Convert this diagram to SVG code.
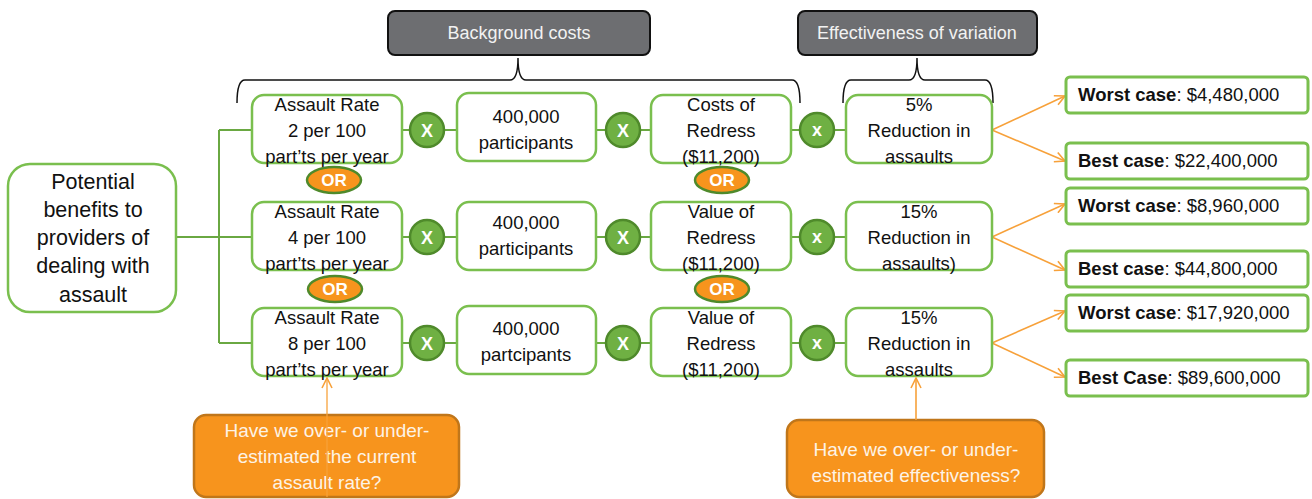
<svg xmlns="http://www.w3.org/2000/svg" width="1312" height="499" viewBox="0 0 1312 499">
<defs>
<style>
text{font-family:"Liberation Sans",Arial,sans-serif;}
.box{fill:#fff;stroke:#7abf4e;stroke-width:2.5;}
.res{fill:#fff;stroke:#7abf4e;stroke-width:3;}
.hdr{fill:#6d6e71;stroke:#111;stroke-width:2;}
.ht{fill:#f2f2f2;font-size:18px;text-anchor:middle;}
.t{fill:#111;font-size:18.5px;text-anchor:middle;}
.rt{fill:#111;font-size:18.5px;}
.b{font-weight:bold;}
.xc{fill:#6fb043;stroke:#4f8a2b;stroke-width:2.5;}
.xt{fill:#fff;font-size:18px;font-weight:bold;text-anchor:middle;}
.or{fill:#f7941d;stroke:#4f8a2b;stroke-width:2.5;}
.ot{fill:#fff;font-size:17px;font-weight:bold;text-anchor:middle;}
.call{fill:#f7941d;stroke:#c0761a;stroke-width:2.5;}
.ct{fill:#fdf3e6;font-size:19px;text-anchor:middle;}
.g{stroke:#6aa842;stroke-width:2;fill:none;}
.brace{stroke:#111;stroke-width:1.5;fill:none;}
.oa{stroke:#f7a13a;stroke-width:1.6;fill:none;}
</style>
<marker id="ah" viewBox="0 0 12 12" refX="11" refY="6" markerWidth="12" markerHeight="12" markerUnits="userSpaceOnUse" orient="auto">
<path d="M1,1 L11,6 L1,11" fill="none" stroke="#f7a13a" stroke-width="1.6"/>
</marker>
</defs>
<rect width="1312" height="499" fill="#fff"/>

<g id="connectors">
<path class="g" d="M176,237 H252 M219,130 V343 M219,130 H252 M219,343 H252"/>
<path class="g" d="M402,130 H457 M596,130 H651 M791,130 H846"/>
<path class="g" d="M402,237 H457 M596,237 H651 M791,237 H846"/>
<path class="g" d="M402,343 H457 M596,343 H651 M791,343 H846"/>
<path class="brace" d="M237,103 Q237,80 245,80 H510 Q518,80 518,58 Q518,80 526,80 H792 Q800,80 800,103"/>
<path class="brace" d="M843,103 Q843,80 851,80 H909 Q917,80 917,58 Q917,80 925,80 H985 Q993,80 993,103"/>
<path class="oa" marker-end="url(#ah)" d="M992,130 L1065,96"/>
<path class="oa" marker-end="url(#ah)" d="M992,130 L1065,161"/>
<path class="oa" marker-end="url(#ah)" d="M992,237 L1065,204"/>
<path class="oa" marker-end="url(#ah)" d="M992,237 L1065,270"/>
<path class="oa" marker-end="url(#ah)" d="M992,343 L1065,311"/>
<path class="oa" marker-end="url(#ah)" d="M992,343 L1065,377"/>
</g>

<g id="hdr-background"><rect class="hdr" x="388" y="11" width="262" height="44" rx="7"/><text class="ht" x="519" y="39">Background costs</text></g>
<g id="hdr-effectiveness"><rect class="hdr" x="798" y="11" width="239" height="44" rx="7"/><text class="ht" x="917" y="39">Effectiveness of variation</text></g>

<g id="root"><rect class="box" x="8" y="164" width="168" height="148" rx="22"/>
<text class="t" x="93" y="189" style="font-size:21.5px">Potential</text>
<text class="t" x="93" y="217" style="font-size:21.5px">benefits to</text>
<text class="t" x="93" y="245" style="font-size:21.5px">providers of</text>
<text class="t" x="93" y="273" style="font-size:21.5px">dealing with</text>
<text class="t" x="93" y="302" style="font-size:21.5px">assault</text></g>

<g id="rate1"><rect class="box" x="252" y="95" width="150" height="68" rx="12"/>
<text class="t" x="327" y="111">Assault Rate</text><text class="t" x="327" y="137">2 per 100</text><text class="t" x="327" y="163">part’ts per year</text></g>
<g id="rate2"><rect class="box" x="252" y="202" width="150" height="68" rx="12"/>
<text class="t" x="327" y="218">Assault Rate</text><text class="t" x="327" y="244">4 per 100</text><text class="t" x="327" y="270">part’ts per year</text></g>
<g id="rate3"><rect class="box" x="252" y="308" width="150" height="68" rx="12"/>
<text class="t" x="327" y="324">Assault Rate</text><text class="t" x="327" y="350">8 per 100</text><text class="t" x="327" y="376">part’ts per year</text></g>

<g id="part1"><rect class="box" x="457" y="93" width="139" height="68" rx="12"/>
<text class="t" x="526" y="123">400,000</text><text class="t" x="526" y="149">participants</text></g>
<g id="part2"><rect class="box" x="457" y="202" width="139" height="68" rx="12"/>
<text class="t" x="526" y="229">400,000</text><text class="t" x="526" y="255">participants</text></g>
<g id="part3"><rect class="box" x="457" y="306" width="139" height="68" rx="12"/>
<text class="t" x="526" y="335">400,000</text><text class="t" x="526" y="361">partcipants</text></g>

<g id="redress1"><rect class="box" x="651" y="95" width="140" height="68" rx="12"/>
<text class="t" x="721" y="111">Costs of</text><text class="t" x="721" y="137">Redress</text><text class="t" x="721" y="163">($11,200)</text></g>
<g id="redress2"><rect class="box" x="651" y="202" width="140" height="68" rx="12"/>
<text class="t" x="721" y="218">Value of</text><text class="t" x="721" y="244">Redress</text><text class="t" x="721" y="270">($11,200)</text></g>
<g id="redress3"><rect class="box" x="651" y="308" width="140" height="68" rx="12"/>
<text class="t" x="721" y="324">Value of</text><text class="t" x="721" y="350">Redress</text><text class="t" x="721" y="376">($11,200)</text></g>

<g id="red1"><rect class="box" x="846" y="95" width="146" height="68" rx="12"/>
<text class="t" x="919" y="111">5%</text><text class="t" x="919" y="137">Reduction in</text><text class="t" x="919" y="163">assaults</text></g>
<g id="red2"><rect class="box" x="846" y="202" width="146" height="68" rx="12"/>
<text class="t" x="919" y="218">15%</text><text class="t" x="919" y="244">Reduction in</text><text class="t" x="919" y="270">assaults)</text></g>
<g id="red3"><rect class="box" x="846" y="308" width="146" height="68" rx="12"/>
<text class="t" x="919" y="324">15%</text><text class="t" x="919" y="350">Reduction in</text><text class="t" x="919" y="376">assaults</text></g>

<g id="ops">
<circle class="xc" cx="427" cy="130" r="17"/><text class="xt" x="427" y="136.5">X</text>
<circle class="xc" cx="623" cy="130" r="17"/><text class="xt" x="623" y="136.5">X</text>
<circle class="xc" cx="817" cy="130" r="17"/><text class="xt" x="817" y="136">x</text>
<circle class="xc" cx="427" cy="237" r="17"/><text class="xt" x="427" y="243.5">X</text>
<circle class="xc" cx="623" cy="237" r="17"/><text class="xt" x="623" y="243.5">X</text>
<circle class="xc" cx="817" cy="237" r="17"/><text class="xt" x="817" y="243">x</text>
<circle class="xc" cx="427" cy="343" r="17"/><text class="xt" x="427" y="349.5">X</text>
<circle class="xc" cx="623" cy="343" r="17"/><text class="xt" x="623" y="349.5">X</text>
<circle class="xc" cx="817" cy="343" r="17"/><text class="xt" x="817" y="349">x</text>
</g>

<g id="ors">
<ellipse class="or" cx="334" cy="180" rx="27" ry="13"/><text class="ot" x="334" y="186">OR</text>
<ellipse class="or" cx="722" cy="180" rx="27" ry="13"/><text class="ot" x="722" y="186">OR</text>
<ellipse class="or" cx="335" cy="289" rx="27" ry="13"/><text class="ot" x="335" y="295">OR</text>
<ellipse class="or" cx="722" cy="289" rx="27" ry="13"/><text class="ot" x="722" y="295">OR</text>
</g>

<g id="results">
<rect class="res" x="1066" y="77" width="242" height="36" rx="4"/><text class="rt" x="1078" y="101"><tspan class="b">Worst case</tspan>: $4,480,000</text>
<rect class="res" x="1066" y="143" width="242" height="36" rx="4"/><text class="rt" x="1078" y="167"><tspan class="b">Best case</tspan>: $22,400,000</text>
<rect class="res" x="1066" y="188" width="242" height="36" rx="4"/><text class="rt" x="1078" y="212"><tspan class="b">Worst case</tspan>: $8,960,000</text>
<rect class="res" x="1066" y="251" width="242" height="36" rx="4"/><text class="rt" x="1078" y="275"><tspan class="b">Best case</tspan>: $44,800,000</text>
<rect class="res" x="1066" y="295" width="242" height="36" rx="4"/><text class="rt" x="1078" y="319"><tspan class="b">Worst case</tspan>: $17,920,000</text>
<rect class="res" x="1066" y="360" width="242" height="36" rx="4"/><text class="rt" x="1078" y="384"><tspan class="b">Best Case</tspan>: $89,600,000</text>
</g>

<g id="callout1"><rect class="call" x="194" y="415" width="265" height="82" rx="12"/>
<text class="ct" x="327" y="437">Have we over- or under-</text><text class="ct" x="327" y="463">estimated the current</text><text class="ct" x="327" y="489">assault rate?</text></g>
<g id="callout2"><rect class="call" x="787" y="420" width="257" height="77" rx="12"/>
<text class="ct" x="916" y="456">Have we over- or under-</text><text class="ct" x="916" y="482">estimated effectiveness?</text></g>
<g id="callout-arrows">
<path class="oa" marker-end="url(#ah)" d="M327,497 V378" style="stroke-opacity:0.8"/>
<path class="oa" marker-end="url(#ah)" d="M916,420 V378"/>
</g>
</svg>
